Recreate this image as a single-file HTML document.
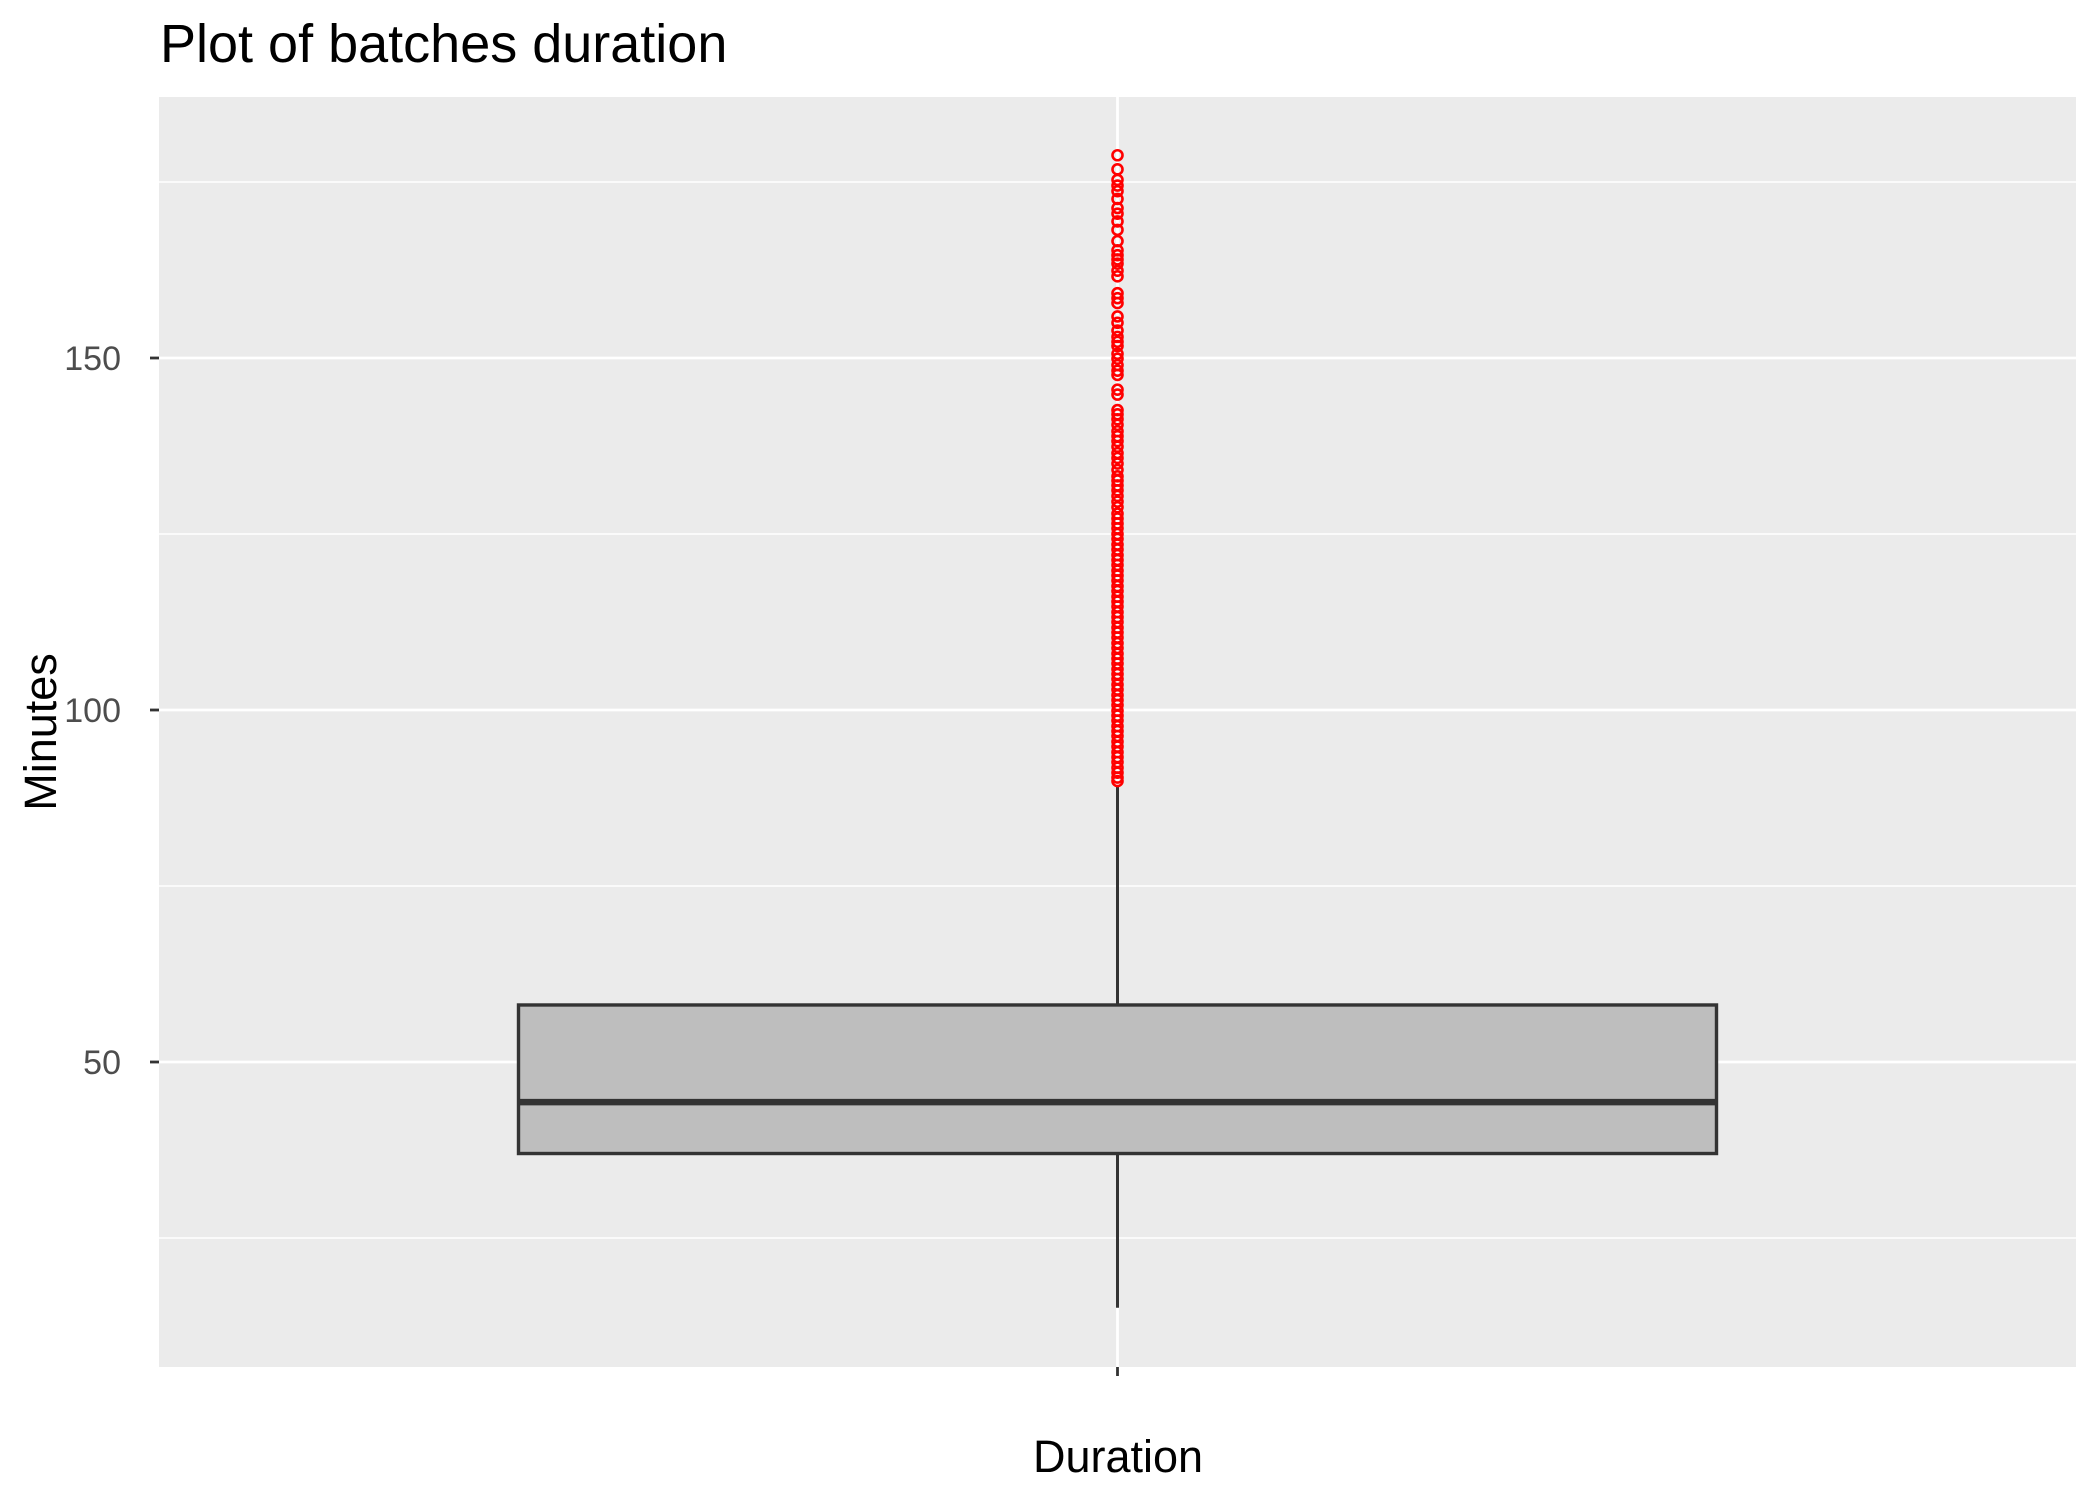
<!DOCTYPE html>
<html><head><meta charset="utf-8"><style>
html,body{margin:0;padding:0;background:#fff;}
svg{display:block;font-family:"Liberation Sans",sans-serif;}
</style></head><body>
<svg id="chart" width="2099" height="1499" viewBox="0 0 2099 1499">
<text x="160" y="62" font-size="54" fill="#000">Plot of batches duration</text>
<rect x="159" y="97" width="1917" height="1270" fill="#ebebeb"/>
<g id="grid"></g>
<g id="axes"></g>
<g id="marks"></g>
<text x="1118" y="1472" font-size="45" text-anchor="middle" fill="#000">Duration</text>
<text transform="translate(56,732) rotate(-90)" font-size="45" text-anchor="middle" fill="#000">Minutes</text>
</svg>
<script>
const categories = ["Duration"];
const yTicks = [50, 100, 150];
const yMinor = [25, 75, 125, 175];
const boxLower = [37.0];
const boxMedian = [44.3];
const boxUpper = [58.1];
const whiskerLow = [15.1];
const whiskerHigh = [89.3];
const outliers = [178.8,176.8,175.3,174.5,173.7,172.6,171.3,170.5,169.4,168.2,166.6,165.3,164.6,164.0,163.4,162.4,161.6,159.2,158.5,157.8,155.9,155.0,153.9,153.0,152.3,151.7,150.6,149.9,149.0,148.2,147.6,145.5,144.8,142.6,142.0,141.3,140.5,139.6,138.9,138.2,137.4,136.5,135.8,135.0,134.1,133.2,132.6,131.9,131.2,130.4,129.6,128.8,127.9,127.2,126.5,125.8,125.0,124.3,123.5,122.8,122.0,121.3,120.6,119.8,119.1,118.4,117.6,116.9,116.1,115.4,114.7,113.9,113.2,112.5,111.7,111.0,110.3,109.5,108.8,108.0,107.3,106.6,105.8,105.1,104.4,103.6,102.9,102.1,101.4,100.7,99.9,99.2,98.5,97.7,97.0,96.3,95.5,94.8,94.0,93.3,92.6,91.8,91.1,90.4,89.9];

const NS = "http://www.w3.org/2000/svg";
const panel = {x0:159, x1:2076, y0:97, y1:1367};
const yScale = v => 1062 - (v - 50) * 7.04;
const xScale = i => panel.x0 + (panel.x1 - panel.x0) * (i + 1) / (categories.length + 1);
function mk(tag, attrs, parent){ const e=document.createElementNS(NS,tag); for(const k in attrs) e.setAttribute(k,attrs[k]); parent.appendChild(e); return e; }
const grid=document.getElementById('grid'), axes=document.getElementById('axes'), marks=document.getElementById('marks');

yMinor.forEach(v=>{
  const l=mk('line',{x1:panel.x0,x2:panel.x1,y1:yScale(v),y2:yScale(v),stroke:'#fff','stroke-width':1.4},grid);
  
  
});
yTicks.forEach(v=>{
  const y=yScale(v);
  const l=mk('line',{x1:panel.x0,x2:panel.x1,y1:y,y2:y,stroke:'#fff','stroke-width':2.8},grid);
  
  
  const t=mk('line',{x1:150,x2:159,y1:y,y2:y,stroke:'#333','stroke-width':2.8},axes);
  
  
  const tx=mk('text',{x:121,y:y+12,'font-size':34,'text-anchor':'end',fill:'#4d4d4d'},axes);
  tx.textContent=v;
  
  
});
categories.forEach((c,i)=>{
  const x=xScale(i);
  const g=mk('line',{x1:x,x2:x,y1:panel.y0,y2:panel.y1,stroke:'#fff','stroke-width':2.8},grid);
  
  
  const t=mk('line',{x1:x,x2:x,y1:panel.y1,y2:panel.y1+9,stroke:'#333','stroke-width':2.8},axes);
  
  
  const half=599;
  const w=mk('line',{x1:x,x2:x,y1:yScale(whiskerHigh[i]),y2:yScale(boxUpper[i]),stroke:'#333','stroke-width':3},marks);
  
  
  const w2=mk('line',{x1:x,x2:x,y1:yScale(boxLower[i]),y2:yScale(whiskerLow[i]),stroke:'#333','stroke-width':3},marks);
  
  
  const b=mk('rect',{x:x-half,y:yScale(boxUpper[i]),width:half*2,height:yScale(boxLower[i])-yScale(boxUpper[i]),fill:'#bebebe',stroke:'#333','stroke-width':3.4},marks);
  
  
  const m=mk('line',{x1:x-half,x2:x+half,y1:yScale(boxMedian[i]),y2:yScale(boxMedian[i]),stroke:'#333','stroke-width':6.5},marks);
  
  
  outliers.forEach(v=>{
    const p=mk('circle',{cx:x,cy:yScale(v),r:5,fill:'none',stroke:'#ff0000','stroke-width':2.6},marks);
    
    
  });
});
</script>
</body></html>
